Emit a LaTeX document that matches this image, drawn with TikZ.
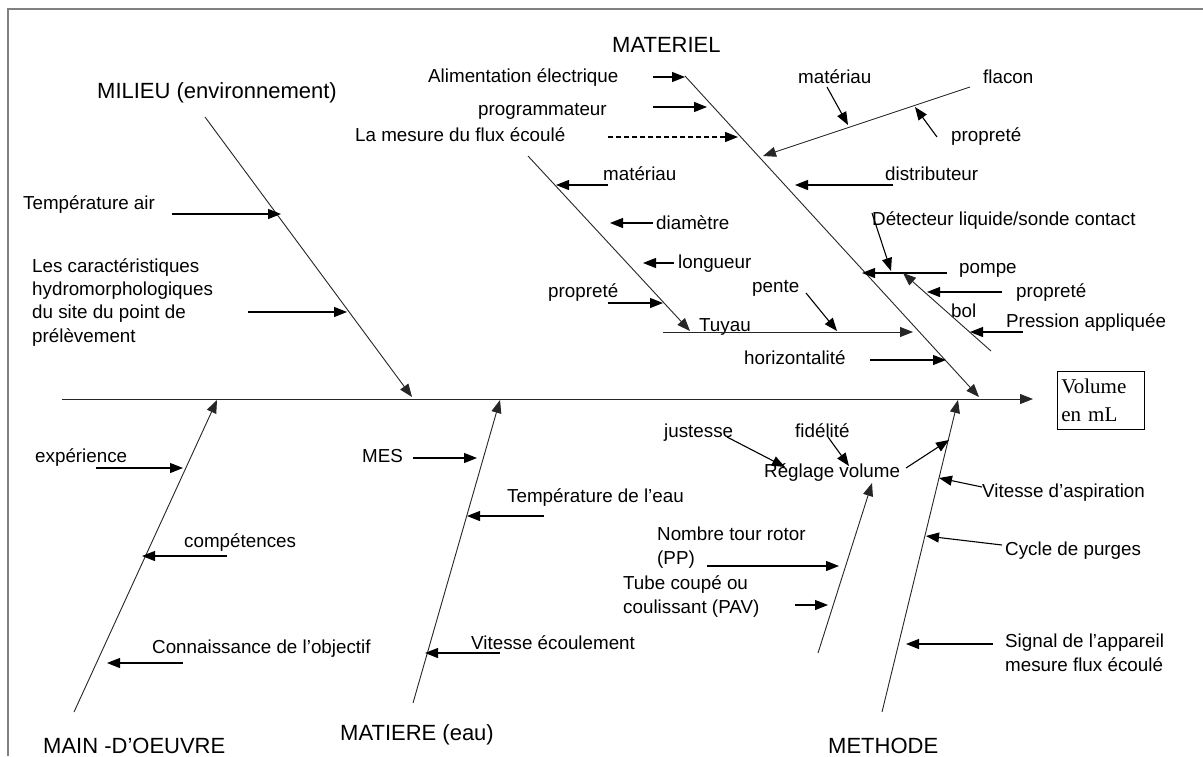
\documentclass[tikz,border=0pt]{standalone}
\usepackage{fontspec}
\setmainfont{Liberation Sans}
\newfontfamily\volserif{Liberation Serif}
\usetikzlibrary{arrows.meta}
\newcommand\lblfont{\fontsize{18.8}{23.3}\selectfont}
\newcommand\hdrfont{\fontsize{22}{26}\selectfont}
\newcommand\volfont{\volserif\fontsize{21}{28}\selectfont}
\begin{document}
\begin{tikzpicture}[x=1pt,y=-1pt,
  lbl/.style={font=\lblfont, anchor=base west, inner sep=0pt},
  hdr/.style={font=\hdrfont, anchor=base west, inner sep=0pt},
  bone/.style={line width=0.9pt, draw=black!85},
  arr/.style={line width=1.1pt, -{Triangle[length=13pt,width=10pt]}},
  bonearr/.style={bone, -{Triangle[length=13pt,width=10pt]}},
  dasharr/.style={arr, dash pattern=on 5pt off 3pt}
]
\useasboundingbox (0,0) rectangle (1203,756);
\fill[white] (0,0) rectangle (1203,756);
\draw[line width=2pt, draw=black!50] (8,756) -- (8,9) -- (1203,9);

% ---------- spine and effect ----------
\coordinate (sp-s) at (62,399);
\coordinate (sp-e) at (1033,399);
\draw[bonearr] (sp-s) -- (sp-e);
\node[draw, line width=0.8pt, anchor=north west, text width=79pt, inner xsep=4pt,
      inner ysep=7.5pt, align=left, font=\volfont] (vol) at (1057,371) {Volume\\en mL};

% ---------- MILIEU ----------
\node[hdr] (milieu) at (97,98) {MILIEU (environnement)};
\coordinate (mil-s) at (205,117);
\coordinate (mil-e) at (412,397);
\draw[bonearr] (mil-s) -- (mil-e);
\node[lbl] (tair) at (23,209) {Température air};
\coordinate (tair-a) at (172,214);
\coordinate (tair-b) at (281,214);
\draw[arr] (tair-a) -- (tair-b);
\node[lbl, align=left] (carac) at (32,342) {Les caractéristiques\\hydromorphologiques\\du site du point de\\prélèvement};
\coordinate (carac-a) at (248,312);
\coordinate (carac-b) at (347,312);
\draw[arr] (carac-a) -- (carac-b);

% ---------- MATERIEL ----------
\node[hdr] (materiel) at (612,52) {MATERIEL};
\coordinate (mat-s) at (685,76);
\coordinate (mat-e) at (979,397);
\draw[bonearr] (mat-s) -- (mat-e);

\node[lbl] (alim) at (428,82) {Alimentation électrique};
\coordinate (alim-a) at (653,77);
\coordinate (alim-b) at (685,77);
\draw[arr] (alim-a) -- (alim-b);

\node[lbl] (prog) at (478,115) {programmateur};
\coordinate (prog-a) at (653,107);
\coordinate (prog-b) at (707,107);
\draw[arr] (prog-a) -- (prog-b);

\node[lbl] (mesure) at (355,141) {La mesure du flux écoulé};
\coordinate (mesure-a) at (608,137);
\coordinate (mesure-b) at (738,137);
\draw[dasharr] (mesure-a) -- (mesure-b);

% flacon
\node[lbl] (flacon) at (983,83) {flacon};
\coordinate (fla-s) at (970,87);
\coordinate (fla-e) at (763,156);
\draw[bonearr] (fla-s) -- (fla-e);
\node[lbl] (flamat) at (798,83) {matériau};
\coordinate (flamat-a) at (827,87);
\coordinate (flamat-b) at (848,125);
\draw[arr] (flamat-a) -- (flamat-b);
\node[lbl] (flapro) at (951,141) {propreté};
\coordinate (flapro-a) at (937,137);
\coordinate (flapro-b) at (915,107);
\draw[arr] (flapro-a) -- (flapro-b);

% distributeur
\node[lbl] (distrib) at (885,180) {distributeur};
\coordinate (distrib-a) at (893,185);
\coordinate (distrib-b) at (795,185);
\draw[arr] (distrib-a) -- (distrib-b);

% pompe, detecteur
\node[lbl] (detect) at (872,225) {Détecteur liquide/sonde contact};
\coordinate (detect-a) at (872,213);
\coordinate (detect-b) at (891,271);
\draw[arr] (detect-a) -- (detect-b);
\node[lbl] (pompe) at (959,273) {pompe};
\coordinate (pompe-a) at (947,273);
\coordinate (pompe-b) at (862,273);
\draw[arr] (pompe-a) -- (pompe-b);

% bol
\node[lbl] (bol) at (951,317) {bol};
\coordinate (bol-s) at (991,351);
\coordinate (bol-e) at (903,273);
\draw[bonearr] (bol-s) -- (bol-e);
\node[lbl] (bolpro) at (1016,297) {propreté};
\coordinate (bolpro-a) at (1002,292);
\coordinate (bolpro-b) at (927,292);
\draw[arr] (bolpro-a) -- (bolpro-b);
\node[lbl] (press) at (1006,327) {Pression appliquée};
\coordinate (press-a) at (1023,332);
\coordinate (press-b) at (970,332);
\draw[arr] (press-a) -- (press-b);

% tuyau
\coordinate (pipe-s) at (528,156);
\coordinate (pipe-e) at (690,331);
\draw[bonearr] (pipe-s) -- (pipe-e);
\node[lbl] (pipmat) at (603,180) {matériau};
\coordinate (pipmat-a) at (608,185);
\coordinate (pipmat-b) at (556,185);
\draw[arr] (pipmat-a) -- (pipmat-b);
\node[lbl] (diam) at (656,229) {diamètre};
\coordinate (diam-a) at (653,223);
\coordinate (diam-b) at (610,223);
\draw[arr] (diam-a) -- (diam-b);
\node[lbl] (longueur) at (678,268) {longueur};
\coordinate (long-a) at (674,263);
\coordinate (long-b) at (643,263);
\draw[arr] (long-a) -- (long-b);
\node[lbl] (pippro) at (548,297) {propreté};
\coordinate (pippro-a) at (608,303);
\coordinate (pippro-b) at (663,303);
\draw[arr] (pippro-a) -- (pippro-b);

\node[lbl] (tuyau) at (699,331) {Tuyau};
\coordinate (tuy-s) at (663,332);
\coordinate (tuy-e) at (913,332);
\draw[bonearr] (tuy-s) -- (tuy-e);
\node[lbl] (pente) at (752,292) {pente};
\coordinate (pente-a) at (806,293);
\coordinate (pente-b) at (837,331);
\draw[arr] (pente-a) -- (pente-b);

\node[lbl] (horiz) at (744,364) {horizontalité};
\coordinate (horiz-a) at (870,360);
\coordinate (horiz-b) at (946,360);
\draw[arr] (horiz-a) -- (horiz-b);

% ---------- MAIN-D'OEUVRE ----------
\node[hdr] (main) at (43,753) {MAIN -D’OEUVRE};
\coordinate (mo-s) at (74,712);
\coordinate (mo-e) at (217,400);
\draw[bonearr] (mo-s) -- (mo-e);
\node[lbl] (exper) at (35,462) {expérience};
\coordinate (exper-a) at (96,468);
\coordinate (exper-b) at (183,468);
\draw[arr] (exper-a) -- (exper-b);
\node[lbl] (compet) at (184,547) {compétences};
\coordinate (compet-a) at (227,556);
\coordinate (compet-b) at (142,556);
\draw[arr] (compet-a) -- (compet-b);
\node[lbl] (connais) at (152,653) {Connaissance de l’objectif};
\coordinate (connais-a) at (183,663);
\coordinate (connais-b) at (107,663);
\draw[arr] (connais-a) -- (connais-b);

% ---------- MATIERE ----------
\node[hdr] (matiere) at (340,740) {MATIERE (eau)};
\coordinate (mt-s) at (413,703);
\coordinate (mt-e) at (500,400);
\draw[bonearr] (mt-s) -- (mt-e);
\node[lbl] (mes) at (362,462) {MES};
\coordinate (mes-a) at (413,458);
\coordinate (mes-b) at (477,458);
\draw[arr] (mes-a) -- (mes-b);
\node[lbl] (teau) at (507,502) {Température de l’eau};
\coordinate (teau-a) at (544,516);
\coordinate (teau-b) at (467,516);
\draw[arr] (teau-a) -- (teau-b);
\node[lbl] (vecoul) at (471,649) {Vitesse écoulement};
\coordinate (vecoul-a) at (500,653);
\coordinate (vecoul-b) at (425,653);
\draw[arr] (vecoul-a) -- (vecoul-b);

% ---------- METHODE ----------
\node[hdr] (methode) at (828,753) {METHODE};
\coordinate (me-s) at (882,712);
\coordinate (me-e) at (958,400);
\draw[bonearr] (me-s) -- (me-e);
\coordinate (rv-s) at (818,653);
\coordinate (rv-e) at (872,483);
\draw[bonearr] (rv-s) -- (rv-e);
\node[lbl] (reglage) at (764,477) {Réglage volume};
\coordinate (reg-a) at (906,468);
\coordinate (reg-b) at (949,440);
\draw[arr] (reg-a) -- (reg-b);
\node[lbl] (just) at (664,437) {justesse};
\coordinate (just-a) at (727,437);
\coordinate (just-b) at (785,467);
\draw[arr] (just-a) -- (just-b);
\node[lbl] (fidel) at (795,437) {fidélité};
\coordinate (fidel-a) at (828,437);
\coordinate (fidel-b) at (849,466);
\draw[arr] (fidel-a) -- (fidel-b);
\node[lbl, align=left] (nombre) at (657,564) {Nombre tour rotor\\(PP)};
\coordinate (nombre-a) at (707,566);
\coordinate (nombre-b) at (839,566);
\draw[arr] (nombre-a) -- (nombre-b);
\node[lbl, align=left] (tube) at (623,613) {Tube coupé ou\\coulissant (PAV)};
\coordinate (tube-a) at (795,605);
\coordinate (tube-b) at (828,605);
\draw[arr] (tube-a) -- (tube-b);
\node[lbl] (vasp) at (982,497) {Vitesse d’aspiration};
\coordinate (vasp-a) at (982,487);
\coordinate (vasp-b) at (939,478);
\draw[arr] (vasp-a) -- (vasp-b);
\node[lbl] (cycle) at (1005,555) {Cycle de purges};
\coordinate (cycle-a) at (1002,545);
\coordinate (cycle-b) at (926,536);
\draw[arr] (cycle-a) -- (cycle-b);
\node[lbl, align=left] (signal) at (1005,671) {Signal de l’appareil\\mesure flux écoulé};
\coordinate (signal-a) at (993,644);
\coordinate (signal-b) at (906,644);
\draw[arr] (signal-a) -- (signal-b);
\end{tikzpicture}
\end{document}
